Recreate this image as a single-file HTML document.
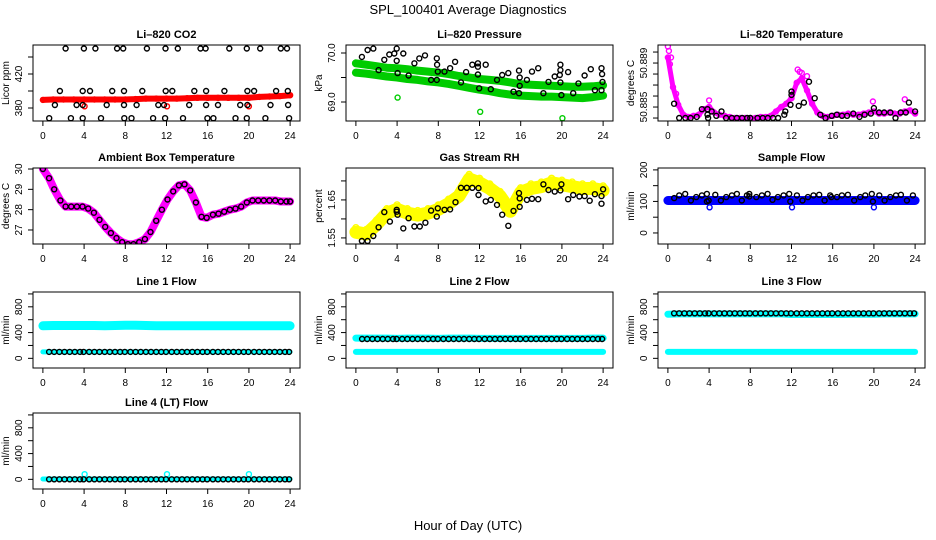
<!DOCTYPE html>
<html><head><meta charset="utf-8"><title>SPL_100401 Average Diagnostics</title>
<style>
html,body{margin:0;padding:0;background:#fff;}
svg{display:block;font-family:"Liberation Sans",Arial,sans-serif;}
</style></head>
<body>
<svg id="chart" width="936" height="540" viewBox="0 0 936 540" xmlns="http://www.w3.org/2000/svg">
<rect x="0" y="0" width="936" height="540" fill="#fff"/>
<text x="468" y="14" text-anchor="middle" font-size="13">SPL_100401  Average Diagnostics</text>
<text x="468" y="530" text-anchor="middle" font-size="13">Hour of Day (UTC)</text>
</svg>
<script>
// ---------- data ----------
const xTicks = [0,4,8,12,16,20,24];
const xTickLabels = ["0","4","8","12","16","20","24"];
const hourGrid = [0,1,2,3,4,5,6,7,8,9,10,11,12,13,14,15,16,17,18,19,20,21,22,23,24];

// CO2
const co2Red = [389.5,390,390,390,390,390,390,390,390,390.5,391,391,391,391,391.5,392,392,392,392,392,392,393,393.5,394,395];
const co2RedOutHours = [4.05,12.05,20.0];
const co2RedOutVals = [382,382,382];
const co2BlackHours = [2.2,3.98,5.1,7.2,7.8,10.1,11.9,13.1,15.3,15.8,18.1,19.8,21.1,23.1,23.7,
  1.65,3.86,4.57,6.73,7.87,9.65,11.92,12.56,14.7,15.84,17.62,19.85,20.5,22.64,23.78,
  1.17,3.27,3.86,6.19,7.87,9.1,11.2,11.76,14.2,15.84,17.0,19.15,19.85,22.1,23.8,
  0.61,2.72,3.86,5.64,7.9,8.6,10.7,11.86,13.6,15.97,16.55,18.7,19.8,21.6,23.9];
const co2BlackVals = [450,450,450,450,450,450,450,450,450,450,450,450,450,450,450,
  400,400,400,400,400,400,400,400,400,400,400,400,400,400,400,
  383.5,383.5,383.5,383.5,383.5,383.5,383.5,383.5,383.5,383.5,383.5,383.5,383.5,383.5,383.5,
  368,368,368,368,368,368,368,368,368,368,368,368,368,368,368];

// Pressure
const presUpper = [69.79,69.76,69.73,69.7,69.69,69.67,69.64,69.62,69.6,69.57,69.53,69.5,69.47,69.45,69.43,69.4,69.36,69.35,69.34,69.33,69.32,69.31,69.31,69.32,69.34];
const presLower = [69.6,69.58,69.55,69.52,69.5,69.47,69.45,69.42,69.4,69.37,69.33,69.29,69.25,69.22,69.18,69.15,69.13,69.12,69.11,69.11,69.1,69.09,69.08,69.1,69.13];
const presGreenOutHours = [4.05,12.07,20.05];
const presGreenOutVals = [69.09,68.80,68.67];
const presBlackHours = [0.58,1.14,1.69,2.2,2.76,3.24,3.73,3.96,3.96,4.05,4.6,5.12,5.68,6.16,6.71,7.3,7.85,7.88,7.95,7.85,8.6,9.15,9.63,10.2,10.7,11.3,11.84,11.84,11.84,11.97,12.6,13.1,13.7,14.2,14.8,15.3,15.83,15.9,15.9,15.83,16.6,17.1,17.7,18.2,18.7,19.3,19.8,19.85,19.85,19.85,19.95,20.6,21.1,21.6,22.2,22.8,23.2,23.84,23.9,23.94,23.84];
const presBlackVals = [69.92,70.06,70.09,69.65,69.86,69.97,69.99,69.84,70.09,69.59,69.99,69.54,69.79,69.89,69.95,69.45,69.89,69.76,69.62,69.45,69.62,69.69,69.82,69.4,69.61,69.76,69.72,69.79,69.56,69.28,69.76,69.26,69.45,69.55,69.59,69.21,69.64,69.5,69.33,69.18,69.45,69.62,69.69,69.18,69.41,69.52,69.55,69.76,69.65,69.4,69.14,69.61,69.18,69.38,69.54,69.67,69.24,69.69,69.57,69.41,69.24];

// Li-820 temperature
const tempHours = [0,0.5,1,1.5,2,2.5,3,3.5,4,4.5,5,5.5,6,6.5,7,7.5,8,8.5,9,9.5,10,10.5,11,11.5,12,12.5,13,13.5,14,14.5,15,15.5,16,16.5,17,17.5,18,18.5,19,19.5,20,20.5,21,21.5,22,22.5,23,23.5,24];
const tempMag = [50.8895,50.8868,50.8852,50.8843,50.8841,50.8842,50.8843,50.8848,50.8850,50.8845,50.8843,50.8842,50.8841,50.8840,50.8840,50.8840,50.8840,50.8840,50.8841,50.8841,50.8842,50.8846,50.8850,50.8853,50.8858,50.8872,50.8876,50.8865,50.8853,50.8845,50.8842,50.8841,50.8842,50.8843,50.8843,50.8844,50.8843,50.8843,50.8844,50.8845,50.8846,50.8844,50.8844,50.8845,50.8844,50.8844,50.8846,50.8847,50.8844];
const tempMagOutHours = [0.1,0.3,0.8,4.0,12.6,12.8,13.5,0.2,13.0,23.0,19.9,0.0];
const tempMagOutVals = [50.8901,50.8895,50.8862,50.8856,50.8884,50.8882,50.8878,50.8889,50.8881,50.8857,50.8855,50.8905];
const tempBlackHours = [0.6,1.1,1.7,2.2,2.8,3.3,3.85,3.85,3.9,4.25,4.7,5.2,5.65,6.2,6.7,7.2,7.7,8.0,8.7,9.2,9.7,10.2,10.7,11.3,11.4,11.9,12.0,12.0,12.7,13.2,13.7,14.25,14.8,15.3,15.9,16.4,16.9,17.4,18.0,18.6,19.1,19.7,20.0,20.5,21.0,21.6,22.1,22.6,23.1,23.4,24.0];
const tempBlackVals = [50.8853,50.8840,50.8840,50.8840,50.8841,50.8848,50.8848,50.8843,50.8840,50.8846,50.8842,50.8846,50.8840,50.8840,50.8840,50.8840,50.8840,50.8840,50.8840,50.8840,50.8840,50.8840,50.8840,50.8843,50.8846,50.8852,50.8864,50.8861,50.8851,50.8854,50.8873,50.8858,50.8843,50.8840,50.8842,50.8843,50.8842,50.8842,50.8844,50.8841,50.8843,50.8844,50.8849,50.8845,50.8845,50.8845,50.8840,50.8845,50.8845,50.8854,50.8846];

// Ambient box temperature
const ambHours = [0,0.6,1.1,1.7,2.2,2.75,3.3,3.85,4.4,4.95,5.5,6.05,6.6,7.15,7.7,8.25,8.8,9.35,9.9,10.45,11.0,11.55,12.1,12.65,13.2,13.75,14.3,14.85,15.4,15.9,16.5,17.05,17.6,18.15,18.7,19.25,19.8,20.35,20.9,21.45,22.0,22.55,23.1,23.65,24.0];
const ambVals = [30.0,29.55,29.0,28.45,28.15,28.15,28.15,28.15,28.05,27.85,27.5,27.15,26.85,26.6,26.4,26.3,26.3,26.4,26.55,26.9,27.45,28.0,28.5,28.9,29.2,29.25,28.95,28.35,27.65,27.6,27.75,27.8,27.9,28.0,28.05,28.15,28.35,28.45,28.45,28.45,28.45,28.45,28.4,28.4,28.4];

// Gas stream RH
const rhBand = [1.565,1.56,1.585,1.615,1.625,1.615,1.61,1.615,1.625,1.64,1.66,1.705,1.695,1.68,1.66,1.62,1.67,1.68,1.685,1.695,1.69,1.685,1.68,1.68,1.675];
const rhBlackHours = [0.58,1.14,1.69,2.2,2.76,3.3,3.96,3.96,4.05,4.6,5.12,5.68,6.2,6.75,7.3,7.85,7.95,8.6,9.15,9.67,10.2,10.77,11.3,11.9,11.9,12.6,13.1,13.7,14.2,14.8,15.3,15.83,15.9,15.9,16.6,17.1,17.7,18.2,18.7,19.3,19.85,19.95,20.6,21.1,21.7,22.2,22.7,23.2,23.84,23.84,24.0];
const rhBlackVals = [1.542,1.542,1.555,1.578,1.618,1.593,1.619,1.624,1.611,1.575,1.602,1.58,1.58,1.59,1.622,1.606,1.628,1.624,1.625,1.644,1.682,1.682,1.682,1.681,1.663,1.646,1.65,1.637,1.611,1.582,1.621,1.668,1.654,1.632,1.65,1.653,1.652,1.691,1.676,1.672,1.675,1.691,1.652,1.663,1.659,1.66,1.648,1.665,1.66,1.64,1.678];

// Sample flow
const sampBlue = [103,103,103,103,103,103,103,103,103,103,103,103,103,103,103,103,103,103,103,103,103,103,103,103,103];
const sampBlueOutHours = [4.05,12.05,20.0];
const sampBlueOutVals = [81.5,81.5,81.5];
const sampBlackHours = [0.61,1.1,1.68,2.23,2.75,3.3,3.79,3.79,3.95,4.6,5.15,5.66,6.21,6.7,7.18,7.67,7.9,7.9,8.58,9.13,9.68,10.16,10.68,11.23,11.78,11.88,12.52,13.07,13.59,14.14,14.69,15.21,15.76,15.86,16.41,16.89,17.48,18.09,18.67,19.16,19.8,19.9,20.52,21.04,21.59,22.14,22.62,23.2,23.79];
const sampBlackVals = [110.5,119,123.8,103,113.7,119,123.8,99.8,103,121,103,113.7,119,123.8,103,119,115.9,123.8,113.7,119,123.8,105.2,113.7,119,123.8,99.8,119,103,113.7,119,121,103,119,113.7,113.7,119,121,103,113.7,119,123.8,99.8,119,103,113.7,119,121,103,119];

// Line flows (black sampled points)
const flowBlackHours = [0.6,1.1,1.6,2.1,2.6,3.1,3.6,3.95,4.5,5.0,5.5,6.0,6.5,7.0,7.5,7.95,8.5,9.0,9.5,10.0,10.5,11.0,11.5,11.95,12.5,13.0,13.5,14.0,14.5,15.0,15.5,15.95,16.5,17.0,17.5,18.0,18.5,19.0,19.5,19.95,20.5,21.0,21.5,22.0,22.5,23.0,23.5,23.9];
const line1Upper = [505,510,510,510,510,510,505,510,515,515,510,505,505,505,505,505,505,505,505,505,505,505,505,505,505];
const line1Lower = [100,100,100,100,100,100,100,100,100,100,100,100,100,100,100,100,100,100,100,100,100,100,100,100,100];
const line1Black = 100;
const line2Upper = [315,315,315,315,310,315,315,315,310,315,315,315,310,310,310,310,310,310,310,310,310,310,310,315,315];
const line2Lower = [100,100,100,100,100,100,100,100,100,100,100,100,100,100,100,100,100,100,100,100,100,100,100,100,100];
const line2Black = 300;
const line3Upper = [685,690,690,690,690,690,690,690,690,690,690,690,680,680,680,680,680,680,685,685,685,690,690,690,690];
const line3Lower = [100,100,100,100,100,100,100,100,100,100,100,100,100,100,100,100,100,100,100,100,100,100,100,100,100];
const line3Black = 700;
const line4Cyan = [5,5,5,5,5,5,5,5,5,5,5,5,5,5,5,5,5,5,5,5,5,5,5,5,5];
const line4CyanOutHours = [4.05,12.05,20.0];
const line4CyanOutVals = [80,80,80];
const line4Black = 0;

// ---------- drawing ----------
const NS = "http://www.w3.org/2000/svg";
const svg = document.getElementById("chart");
function mk(tag, attrs, parent){
  const e = document.createElementNS(NS, tag);
  for (const k in attrs) e.setAttribute(k, attrs[k]);
  (parent||svg).appendChild(e);
  return e;
}
const colLeft = [33, 346, 658];
const rowTop = [45, 168, 292, 413];
const BW = 267, BH = 76;

function makePanel(col,row,name,title,ylab,ymin,ymax,yticks,ylabels){
  const L = colLeft[col], T = rowTop[row];
  const g = mk("g",{});
  
  
  const xs = h => L + BW*(h + 0.96)/25.92;
  const ys = v => T + BH - (v - ymin)/(ymax - ymin)*BH;
  const t = mk("text",{x:L+BW/2,y:T-7,"text-anchor":"middle","font-size":"11","font-weight":"bold"},g);
  t.textContent = title;
  
  
  const clip = mk("clipPath",{id:"clip-"+name},g);
  mk("rect",{x:L,y:T,width:BW,height:BH},clip);
  const plot = mk("g",{"clip-path":"url(#clip-"+name+")"},g);
  
  
  const box = mk("rect",{x:L,y:T,width:BW,height:BH,fill:"none",stroke:"#000","stroke-width":"1"},g);
  
  
  const xa = mk("g",{},g);
  
  
  xTicks.forEach((h,i)=>{
    const x = xs(h);
    mk("line",{x1:x,y1:T+BH,x2:x,y2:T+BH+5,stroke:"#000"},xa);
    const lb = mk("text",{x:x,y:T+BH+18,"text-anchor":"middle","font-size":"10"},xa);
    lb.textContent = xTickLabels[i];
    
    
  });
  const ya = mk("g",{},g);
  
  
  yticks.forEach((v,i)=>{
    const y = ys(v);
    mk("line",{x1:L,y1:y,x2:L-5,y2:y,stroke:"#000"},ya);
    if (ylabels[i]) {
      const lb = mk("text",{x:L-11,y:y,"text-anchor":"middle","font-size":"10",transform:"rotate(-90 "+(L-11)+" "+y+")"},ya);
      lb.textContent = ylabels[i];
      
      
    }
  });
  const yt = mk("text",{x:L-24,y:T+BH/2,"text-anchor":"middle","font-size":"10",transform:"rotate(-90 "+(L-24)+" "+(T+BH/2)+")"},g);
  yt.textContent = ylab;
  
  
  return {plot, xs, ys, name};
}
function band(p, hours, vals, color, width, label){
  const d = hours.map((h,i)=>(i?"L":"M")+p.xs(h).toFixed(1)+" "+p.ys(vals[i]).toFixed(1)).join(" ");
  const e = mk("path",{d:d,fill:"none",stroke:color,"stroke-width":width,"stroke-linejoin":"round","stroke-linecap":"round"},p.plot);
  
  
}
function pts(p, hours, vals, color, label, r){
  hours.forEach((h,i)=>{
    const v = Array.isArray(vals) ? vals[i] : vals;
    const c = mk("circle",{cx:p.xs(h).toFixed(1),cy:p.ys(v).toFixed(1),r:r||2.5,fill:"none",stroke:color,"stroke-width":"1.4"},p.plot);
    
    
  });
}
const flowTicks=[0,200,400,600,800,1000], flowLabels=["0","","400","","800",""];

// CO2
let p = makePanel(0,0,"co2","Li\u2013820 CO2","Licor ppm",364.7,454.1,[380,400,420,440],["380","","420",""]);
band(p,hourGrid,co2Red,"#ff0000",6,"red-series");
pts(p,hourGrid,co2Red,"#ff0000","red-point");
pts(p,co2RedOutHours,co2RedOutVals,"#ff0000","red-outlier");
pts(p,co2BlackHours,co2BlackVals,"#000","black-point");

// Pressure
p = makePanel(1,0,"pressure","Li\u2013820 Pressure","kPa",68.612,70.163,[69.0,69.5,70.0],["69.0","","70.0"]);
band(p,hourGrid,presUpper,"#00cc00",8,"green-upper-series");
band(p,hourGrid,presLower,"#00cc00",8,"green-lower-series");
pts(p,presGreenOutHours,presGreenOutVals,"#00cc00","green-outlier");
pts(p,presBlackHours,presBlackVals,"#000","black-point");

// Temperature
p = makePanel(2,0,"li820-temp","Li\u2013820 Temperature","degrees C",50.88373,50.89064,[50.884,50.885,50.886,50.887,50.888,50.889,50.890],["","50.885","","","","50.889",""]);
band(p,tempHours,tempMag,"#ff00ff",5,"magenta-series");
pts(p,tempHours,tempMag,"#ff00ff","magenta-point");
pts(p,tempMagOutHours,tempMagOutVals,"#ff00ff","magenta-outlier");
pts(p,tempBlackHours,tempBlackVals,"#000","black-point");

// Ambient
p = makePanel(0,1,"ambient","Ambient Box Temperature","degrees C",26.31,30.05,[27,28,29,30],["27","28","29","30"]);
band(p,ambHours,ambVals,"#ff00ff",8,"magenta-series");
pts(p,ambHours,ambVals,"#000","black-point");

// RH
p = makePanel(1,1,"rh","Gas Stream RH","percent",1.534,1.734,[1.55,1.60,1.65,1.70],["1.55","","1.65",""]);
band(p,hourGrid,rhBand,"#ffff00",13,"yellow-series");
pts(p,hourGrid,rhBand.map(v=>v+0.012),"#ffff00","yellow-point",3);
pts(p,rhBlackHours,rhBlackVals,"#000","black-point");

// Sample flow
p = makePanel(2,1,"sample-flow","Sample Flow","ml/min",-35,206,[0,50,100,150,200],["0","","100","","200"]);
band(p,hourGrid,sampBlue,"#0000ff",9,"blue-series");
pts(p,sampBlueOutHours,sampBlueOutVals,"#0000ff","blue-outlier");
pts(p,sampBlackHours,sampBlackVals,"#000","black-point");

// Line 1
p = makePanel(0,2,"line1-flow","Line 1 Flow","ml/min",-150,1030,flowTicks,flowLabels);
band(p,hourGrid,line1Upper,"#00ffff",9,"cyan-upper-series");
band(p,hourGrid,line1Lower,"#00ffff",5,"cyan-lower-series");
pts(p,flowBlackHours,line1Black,"#000","black-point");

// Line 2
p = makePanel(1,2,"line2-flow","Line 2 Flow","ml/min",-150,1030,flowTicks,flowLabels);
band(p,hourGrid,line2Upper,"#00ffff",7,"cyan-upper-series");
band(p,hourGrid,line2Lower,"#00ffff",6,"cyan-lower-series");
pts(p,flowBlackHours,line2Black,"#000","black-point");

// Line 3
p = makePanel(2,2,"line3-flow","Line 3 Flow","ml/min",-150,1030,flowTicks,flowLabels);
band(p,hourGrid,line3Upper,"#00ffff",7,"cyan-upper-series");
band(p,hourGrid,line3Lower,"#00ffff",6,"cyan-lower-series");
pts(p,flowBlackHours,line3Black,"#000","black-point");

// Line 4
p = makePanel(0,3,"line4-flow","Line 4 (LT) Flow","ml/min",-150,1030,flowTicks,flowLabels);
band(p,hourGrid,line4Cyan,"#00ffff",5,"cyan-series");
pts(p,line4CyanOutHours,line4CyanOutVals,"#00ffff","cyan-outlier");
pts(p,flowBlackHours,line4Black,"#000","black-point");
</script>
</body></html>
